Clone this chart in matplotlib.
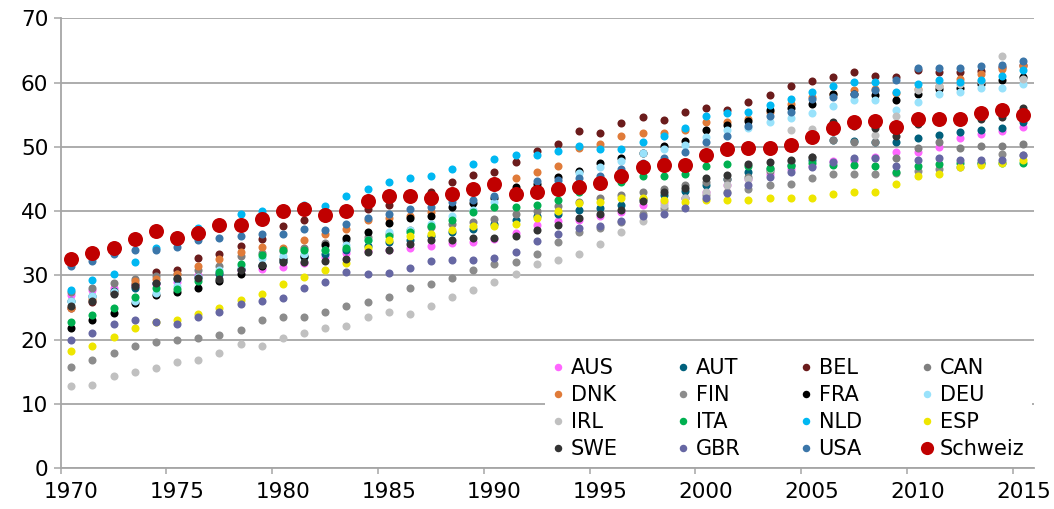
import matplotlib
matplotlib.use("Agg")
import matplotlib.pyplot as plt
from matplotlib.lines import Line2D

years = list(range(1970, 2016))

aus = [27.0, 27.7, 28.0, 28.4, 28.6, 29.0, 30.0, 30.4, 30.8, 31.0,
       31.3, 32.0, 32.9, 33.5, 33.8, 34.0, 34.2, 34.6, 35.0, 35.2,
       35.6, 36.6, 37.9, 38.4, 38.7, 39.2, 39.9, 41.0, 41.5, 42.0,
       43.0, 44.0, 45.0, 45.8, 46.5, 47.0, 47.8, 48.0, 48.5, 49.2,
       49.2, 50.0, 51.4, 52.0, 52.5, 53.1]
aut = [26.0, 26.8, 27.6, 28.0, 28.8, 29.4, 29.8, 30.3, 31.0, 31.6,
       32.2, 32.8, 33.4, 34.0, 34.6, 35.2, 35.5, 36.2, 36.8, 37.3,
       38.0, 38.6, 39.2, 39.5, 40.2, 40.5, 40.9, 41.9, 42.5, 43.2,
       44.0, 45.0, 46.1, 46.6, 47.2, 48.0, 51.0, 50.9, 50.8, 50.8,
       51.4, 51.8, 52.3, 52.7, 53.0, 53.8]
bel = [25.0, 25.8, 27.3, 28.7, 30.6, 30.9, 32.7, 33.4, 34.6, 35.6,
       37.7, 38.6, 39.0, 39.8, 40.3, 41.0, 42.0, 43.0, 44.6, 45.6,
       46.1, 47.7, 49.4, 50.5, 52.4, 52.1, 53.7, 54.6, 54.2, 55.5,
       56.1, 55.8, 57.0, 58.0, 59.5, 60.2, 60.8, 61.7, 61.0, 60.9,
       61.9, 61.6, 61.7, 61.8, 62.4, 62.8]
can = [27.5, 28.0, 28.9, 29.5, 29.9, 30.3, 30.8, 31.5, 33.0, 33.5,
       33.8, 34.3, 35.0, 35.5, 36.0, 36.5, 37.0, 37.5, 38.0, 38.3,
       38.8, 39.5, 40.0, 40.8, 41.5, 42.0, 42.5, 43.0, 43.5, 44.0,
       44.5, 45.0, 45.3, 46.2, 47.8, 48.5, 51.0, 50.7, 50.8, 48.3,
       49.8, 50.8, 49.8, 50.1, 50.2, 50.5]
dnk = [24.9, 26.3, 27.5, 29.1, 29.5, 30.3, 31.5, 32.6, 33.6, 34.5,
       34.3, 35.5, 36.4, 37.2, 38.7, 38.9, 39.3, 39.8, 42.0, 43.3,
       44.0, 45.2, 46.1, 47.1, 49.8, 50.5, 51.7, 52.1, 52.2, 52.7,
       53.9, 53.8, 54.3, 55.5, 56.6, 57.7, 58.2, 58.8, 59.0, 58.4,
       59.0, 59.5, 60.5, 61.4, 62.1, 62.6]
fin = [15.8, 16.8, 18.0, 19.0, 19.6, 19.9, 20.2, 20.8, 21.5, 23.0,
       23.6, 23.6, 24.3, 25.2, 25.8, 26.7, 28.0, 28.6, 29.6, 30.8,
       31.8, 32.1, 33.3, 35.2, 36.7, 37.4, 38.3, 39.5, 40.5, 42.0,
       42.5, 43.0, 43.5, 44.0, 44.2, 45.2, 45.8, 45.8, 45.8, 46.0,
       46.3, 46.5, 46.8, 47.5, 48.9, 48.8]
fra = [21.8, 23.0, 24.2, 25.7, 27.0, 27.4, 28.0, 29.2, 30.3, 31.5,
       32.5, 33.1, 34.8, 35.8, 36.8, 38.2, 38.9, 39.2, 40.6, 41.2,
       42.0, 43.8, 44.3, 45.3, 46.2, 47.5, 48.2, 49.0, 50.1, 50.9,
       52.7, 53.4, 54.0, 55.8, 56.1, 56.6, 58.3, 58.2, 58.0, 57.3,
       58.2, 59.0, 59.2, 59.8, 60.4, 60.8]
deu = [26.0, 26.8, 27.4, 26.1, 27.3, 28.4, 29.8, 30.8, 31.4, 32.7,
       33.0, 33.4, 34.0, 34.8, 35.5, 36.8, 37.1, 38.0, 39.2, 40.2,
       41.5, 42.2, 43.5, 44.5, 46.0, 46.8, 47.8, 49.0, 49.6, 50.3,
       51.5, 52.7, 53.0, 53.9, 54.5, 55.2, 56.4, 57.3, 57.3, 55.8,
       57.0, 58.3, 58.6, 59.2, 59.2, 59.8]
irl = [12.8, 13.0, 14.3, 15.0, 15.6, 16.5, 16.8, 18.0, 19.3, 19.0,
       20.2, 21.1, 21.8, 22.1, 23.6, 24.3, 24.0, 25.2, 26.7, 27.8,
       29.0, 30.3, 31.8, 32.4, 33.4, 34.9, 36.7, 38.5, 41.0, 42.0,
       43.0, 44.0, 45.0, 46.5, 52.7, 52.8, 53.0, 53.5, 51.9, 54.8,
       58.9, 59.5, 59.8, 60.2, 64.2, 60.5]
ita = [22.7, 23.9, 24.9, 26.7, 28.0, 27.9, 29.2, 30.6, 31.8, 33.2,
       33.9, 33.9, 33.9, 34.3, 35.5, 36.1, 36.8, 37.7, 38.7, 39.9,
       40.6, 40.6, 40.9, 41.8, 43.0, 43.9, 44.6, 45.4, 45.4, 45.8,
       47.0, 47.3, 47.0, 46.7, 47.1, 47.5, 47.2, 47.2, 47.0, 46.1,
       47.0, 47.3, 47.5, 47.5, 47.5, 47.5]
nld = [27.8, 29.3, 30.2, 32.1, 34.3, 35.0, 37.4, 38.3, 39.5, 40.0,
       40.3, 40.9, 40.8, 42.3, 43.5, 44.5, 45.1, 45.4, 46.5, 47.4,
       48.1, 48.7, 48.7, 49.3, 50.2, 49.6, 49.6, 50.8, 51.7, 53.0,
       54.8, 55.2, 55.4, 56.5, 57.4, 58.6, 59.5, 60.1, 60.1, 58.6,
       59.8, 60.4, 60.1, 60.4, 61.0, 62.0]
esp = [18.3, 19.0, 20.5, 21.8, 22.8, 23.1, 24.0, 24.9, 26.2, 27.1,
       28.6, 29.8, 30.8, 32.0, 34.3, 35.5, 36.1, 36.5, 37.1, 37.7,
       37.7, 38.0, 39.0, 40.0, 41.2, 41.4, 42.1, 42.0, 41.7, 41.5,
       41.8, 41.8, 41.8, 42.0, 42.0, 42.0, 42.6, 43.0, 43.0, 44.2,
       45.4, 45.8, 46.8, 47.2, 47.5, 48.0]
swe = [25.3, 26.1, 27.1, 28.3, 28.9, 29.6, 29.6, 29.5, 30.8, 31.7,
       32.1, 32.1, 32.3, 32.6, 33.6, 33.9, 34.9, 35.5, 35.5, 35.9,
       35.9, 36.2, 37.1, 37.9, 38.9, 39.6, 40.2, 41.6, 43.0, 43.6,
       45.2, 45.7, 47.3, 47.6, 48.0, 48.5, 53.9, 53.2, 53.0, 51.7,
       53.5, 54.0, 54.2, 54.3, 54.7, 56.0]
gbr = [20.0, 21.1, 22.4, 23.0, 22.7, 22.4, 23.6, 24.3, 25.5, 26.1,
       26.5, 28.0, 29.0, 30.5, 30.2, 30.4, 31.1, 32.3, 32.4, 32.4,
       32.7, 33.7, 35.3, 36.5, 37.4, 37.7, 38.4, 39.3, 39.6, 40.5,
       42.1, 42.8, 44.0, 45.3, 46.1, 46.8, 47.7, 48.2, 48.2, 47.0,
       48.0, 48.3, 48.0, 48.0, 48.0, 48.7]
usa = [31.4, 32.3, 33.3, 33.9, 34.0, 34.4, 35.5, 35.8, 36.1, 36.4,
       36.4, 37.3, 37.0, 38.0, 39.0, 39.5, 40.4, 40.7, 41.5, 41.8,
       42.4, 43.0, 44.7, 44.8, 45.1, 45.5, 46.5, 47.5, 48.3, 49.2,
       50.8, 51.7, 53.2, 54.8, 55.5, 57.4, 57.7, 58.3, 58.9, 60.4,
       62.3, 62.3, 62.2, 62.6, 62.7, 63.3]
schweiz = [32.5, 33.5, 34.3, 35.6, 36.9, 35.9, 36.6, 37.8, 37.8, 38.8,
           40.0, 40.3, 39.4, 40.0, 41.6, 42.4, 42.4, 42.1, 42.6, 43.5,
           44.2, 42.6, 43.0, 43.5, 43.8, 44.4, 45.5, 46.9, 47.2, 47.2,
           48.7, 49.7, 49.9, 49.9, 50.3, 51.6, 52.9, 53.8, 54.1, 53.1,
           54.4, 54.3, 54.4, 55.3, 55.7, 54.9]

names = ["AUS", "AUT", "BEL", "CAN", "DNK", "FIN", "FRA", "DEU",
         "IRL", "ITA", "NLD", "ESP", "SWE", "GBR", "USA", "Schweiz"]
series = [aus, aut, bel, can, dnk, fin, fra, deu,
          irl, ita, nld, esp, swe, gbr, usa, schweiz]
colors = ["#ff66ff", "#00607c", "#6b1c1c", "#7f7f7f", "#e07b39", "#8c8c8c",
          "#000000", "#99e2fb", "#c0c0c0", "#00b050", "#00b8f2", "#eee600",
          "#333333", "#6667a3", "#3b76a9", "#c00000"]

grid_col = "#a6a6a6"
plt.rcParams["font.family"] = ["DejaVu Sans"]

fig = plt.figure(figsize=(10.54, 5.09), dpi=100)
ax = fig.add_axes([0.0576, 0.080, 0.9234, 0.884])

handles = []
for name, vals, col in zip(names, series, colors):
    big = name == "Schweiz"
    ax.plot(years, vals, "o", color=col, mec="none",
            ms=10.8 if big else 5.8, zorder=4 if big else 3)
    handles.append(Line2D([], [], ls="none", marker="o", color=col, mec="none",
                          ms=9.5 if big else 5.4))

ax.set_xlim(1969.5, 2015.5)
ax.set_ylim(0, 70)
ax.set_yticks(range(0, 71, 10))
ax.set_xticks(range(1970, 2016, 5))
ax.set_xticks([y - 0.5 for y in range(1970, 2016, 5)], minor=True)
ax.tick_params(axis="x", which="major", length=0, pad=10, labelsize=15.5)
ax.tick_params(axis="x", which="minor", length=4.5, width=1.1, color=grid_col)
ax.tick_params(axis="y", length=5, width=1.1, color=grid_col, pad=4, labelsize=15.5)
ax.grid(axis="y", color=grid_col, lw=1.3, zorder=1)
ax.set_axisbelow(True)
for s in ["top", "right"]:
    ax.spines[s].set_visible(False)
for s in ["left", "bottom"]:
    ax.spines[s].set_color(grid_col)
    ax.spines[s].set_linewidth(1.3)

# Legende zeilenweise wie im Original
order = [i for c in range(4) for i in range(c, 16, 4)]
leg = ax.legend([handles[i] for i in order], [names[i] for i in order],
                ncol=4, loc="lower right", bbox_to_anchor=(1.0, 0.0),
                fontsize=15, frameon=True, facecolor="white", edgecolor="none",
                framealpha=1, fancybox=False, handlelength=0.6, handletextpad=0.3,
                columnspacing=2.85, labelspacing=0.33, borderpad=0.35,
                borderaxespad=0.1)
leg.set_zorder(5)

fig.savefig("out.png", dpi=100)
